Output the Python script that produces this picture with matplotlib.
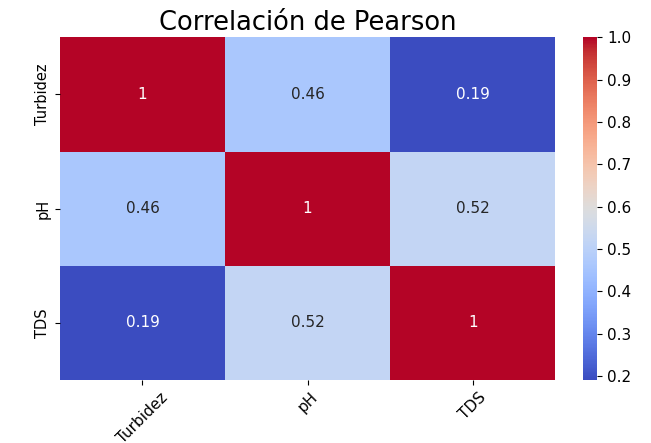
import numpy as np
import pandas as pd
import matplotlib
matplotlib.use("Agg")
import matplotlib.pyplot as plt
import seaborn as sns

# Matriz de correlación de Pearson
variables = ["Turbidez", "pH", "TDS"]
corr_values = [
    [1.00, 0.46, 0.19],
    [0.46, 1.00, 0.52],
    [0.19, 0.52, 1.00],
]
corr = pd.DataFrame(corr_values, index=variables, columns=variables)

fig = plt.figure(figsize=(6.51, 4.43), dpi=100)
ax = fig.add_axes([0.092, 0.142, 0.761, 0.774])
cax = fig.add_axes([0.896, 0.142, 0.0215, 0.774])

sns.heatmap(corr, annot=True, cmap="coolwarm", ax=ax, cbar_ax=cax,
            annot_kws={"fontsize": 11})
ax.set_title("Correlación de Pearson", fontsize=18.5, pad=5)
ax.set_xticklabels(ax.get_xticklabels(), rotation=45, fontsize=11)
ax.set_yticklabels(ax.get_yticklabels(), rotation=90, va="center", fontsize=10.5)
cax.tick_params(labelsize=11)

fig.savefig("out.png", dpi=100)
